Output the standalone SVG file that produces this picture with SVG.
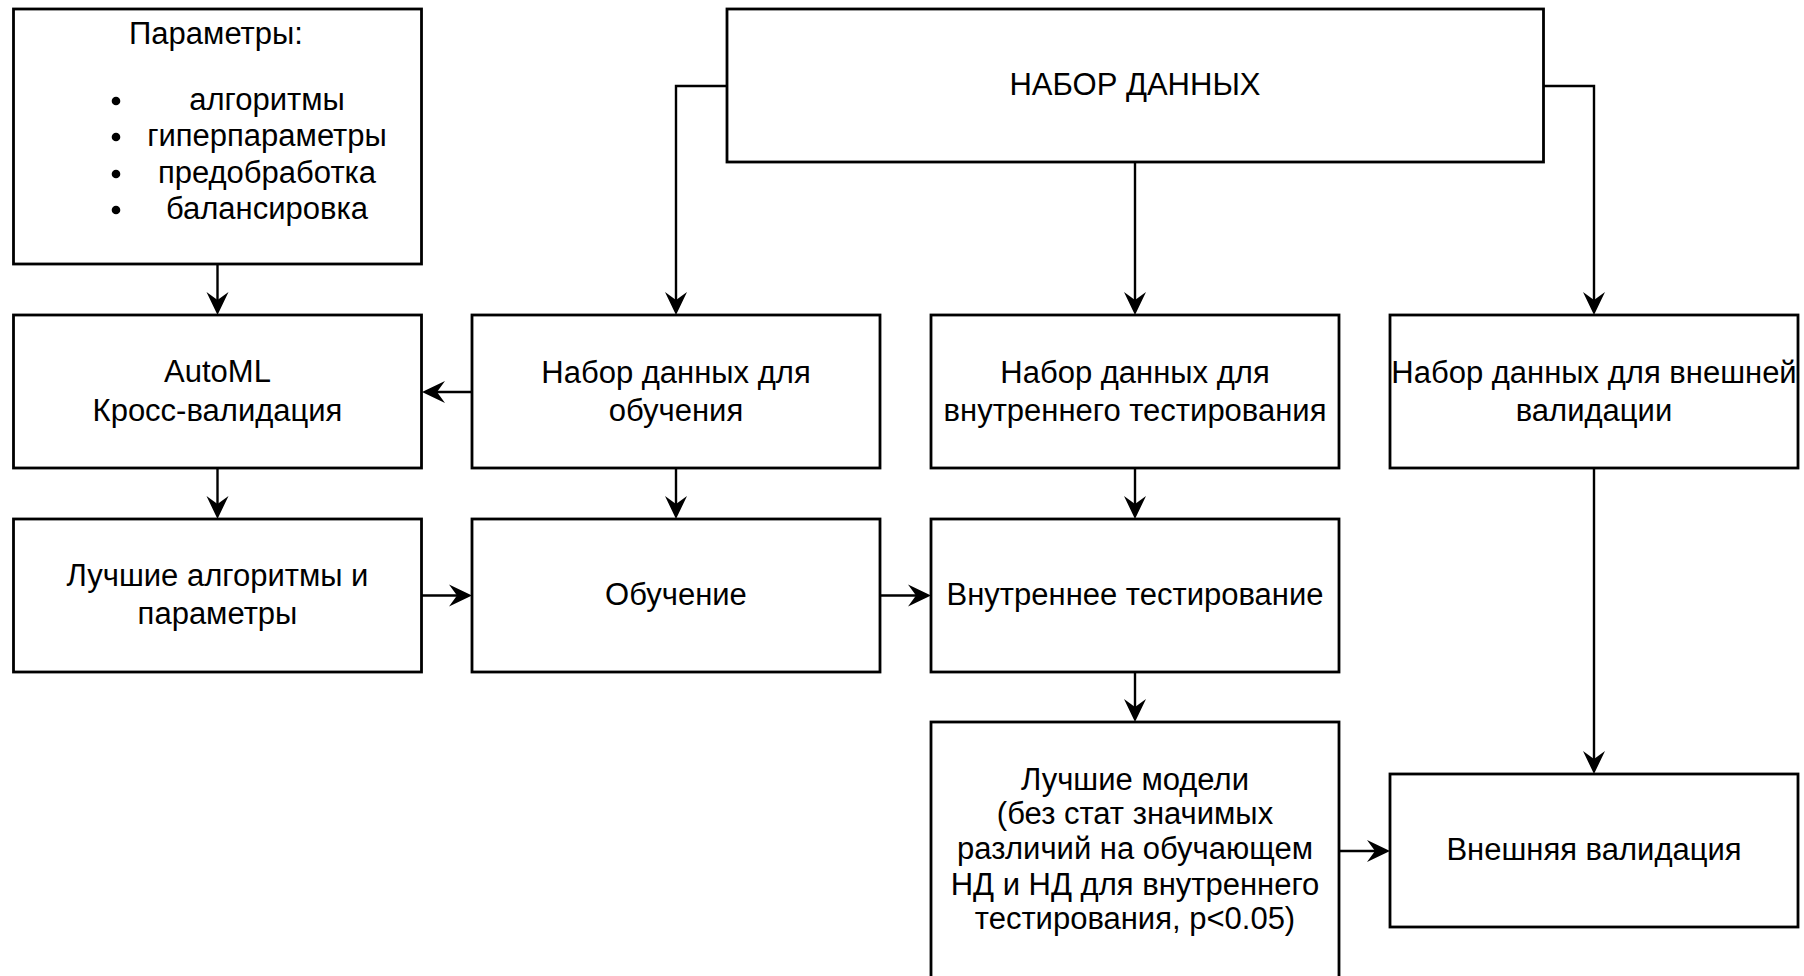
<svg xmlns="http://www.w3.org/2000/svg" width="1804" height="976" viewBox="0 0 1804 976">
<style>
  .box { fill: #ffffff; stroke: #000000; stroke-width: 2.8; }
  .t { font-family: "Liberation Sans", Arial, Helvetica, sans-serif; font-size: 31px; fill: #000000; text-anchor: middle; }
  .c { fill: none; stroke: #000000; stroke-width: 2.4; marker-end: url(#ah); }
</style>
<defs>
  <marker id="ah" markerUnits="userSpaceOnUse" markerWidth="28" markerHeight="28" viewBox="-10 -14 28 28" refX="0" refY="0" orient="auto">
    <path d="M15,0 L-8,-11 L0,0 L-8,11 Z" fill="#000000"/>
  </marker>
</defs>
<rect x="0" y="0" width="1804" height="976" fill="#ffffff"/>

<g id="connectors">
  <path class="c" d="M217.5,264 V300"/>
  <path class="c" d="M727,86 H676 V300"/>
  <path class="c" d="M1135,162 V300"/>
  <path class="c" d="M1543.5,86 H1594 V300"/>
  <path class="c" d="M472,392 H437"/>
  <path class="c" d="M217.5,468 V504"/>
  <path class="c" d="M676,468 V504"/>
  <path class="c" d="M1135,468 V504"/>
  <path class="c" d="M421.5,595.5 H457"/>
  <path class="c" d="M880,595.5 H916"/>
  <path class="c" d="M1135,672 V707"/>
  <path class="c" d="M1339,851 H1375"/>
  <path class="c" d="M1594,468 V759"/>
</g>

<g id="params">
  <rect class="box" x="13.5" y="9" width="408" height="255"/>
  <text class="t" x="216" y="44">Параметры:</text>
  <circle cx="116" cy="101" r="4.3"/>
  <circle cx="116" cy="137" r="4.3"/>
  <circle cx="116" cy="174" r="4.3"/>
  <circle cx="116" cy="210" r="4.3"/>
  <text class="t" x="267" y="110">алгоритмы</text>
  <text class="t" x="267" y="146">гиперпараметры</text>
  <text class="t" x="267" y="183">предобработка</text>
  <text class="t" x="267" y="219">балансировка</text>
</g>

<g id="dataset">
  <rect class="box" x="727" y="9" width="816.5" height="153"/>
  <text class="t" x="1135" y="95">НАБОР ДАННЫХ</text>
</g>

<g id="automl">
  <rect class="box" x="13.5" y="315" width="408" height="153"/>
  <text class="t" x="217.5" y="382">AutoML</text>
  <text class="t" x="217.5" y="421">Кросс-валидация</text>
</g>

<g id="train-set">
  <rect class="box" x="472" y="315" width="408" height="153"/>
  <text class="t" x="676" y="383">Набор данных для</text>
  <text class="t" x="676" y="421">обучения</text>
</g>

<g id="internal-set">
  <rect class="box" x="931" y="315" width="408" height="153"/>
  <text class="t" x="1135" y="383">Набор данных для</text>
  <text class="t" x="1135" y="421">внутреннего тестирования</text>
</g>

<g id="external-set">
  <rect class="box" x="1390" y="315" width="408" height="153"/>
  <text class="t" x="1594" y="383">Набор данных для внешней</text>
  <text class="t" x="1594" y="421">валидации</text>
</g>

<g id="best-algos">
  <rect class="box" x="13.5" y="519" width="408" height="153"/>
  <text class="t" x="217.5" y="586">Лучшие алгоритмы и</text>
  <text class="t" x="217.5" y="624">параметры</text>
</g>

<g id="training">
  <rect class="box" x="472" y="519" width="408" height="153"/>
  <text class="t" x="676" y="605">Обучение</text>
</g>

<g id="internal-test">
  <rect class="box" x="931" y="519" width="408" height="153"/>
  <text class="t" x="1135" y="605">Внутреннее тестирование</text>
</g>

<g id="best-models">
  <rect class="box" x="931" y="722" width="408" height="258"/>
  <text class="t" x="1135" y="790">Лучшие модели</text>
  <text class="t" x="1135" y="824">(без стат значимых</text>
  <text class="t" x="1135" y="859">различий на обучающем</text>
  <text class="t" x="1135" y="895">НД и НД для внутреннего</text>
  <text class="t" x="1135" y="929">тестирования, p&lt;0.05)</text>
</g>

<g id="external-val">
  <rect class="box" x="1390" y="774" width="408" height="153"/>
  <text class="t" x="1594" y="860">Внешняя валидация</text>
</g>
</svg>
